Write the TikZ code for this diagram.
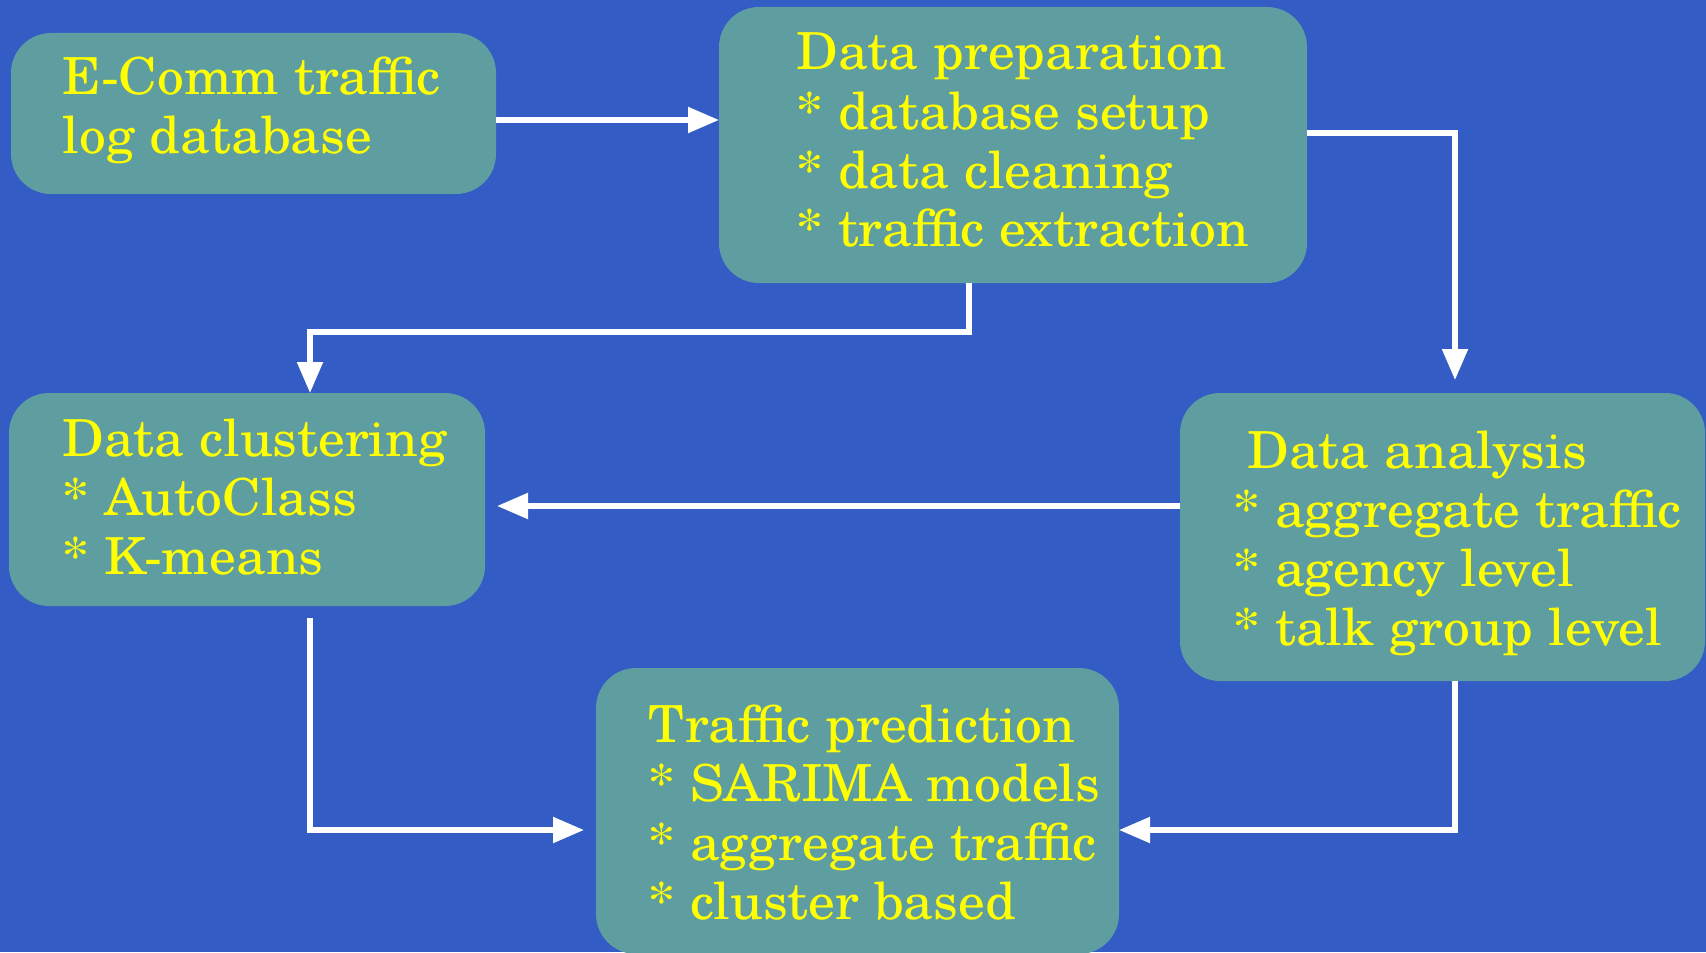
\documentclass[tikz,border=0pt]{standalone}
\usepackage{fontspec}
\setmainfont{texgyreschola}[Extension=.otf, UprightFont=*-regular, BoldFont=*-bold, ItalicFont=*-italic, BoldItalicFont=*-bolditalic, FakeStretch=1.05]
\usetikzlibrary{arrows.meta}
\definecolor{bgblue}{RGB}{51,92,197}
\definecolor{boxteal}{RGB}{95,158,160}
\definecolor{txtyellow}{RGB}{255,255,0}
\begin{document}
\begin{tikzpicture}[x=0.5pt, y=-0.5pt,
  stage/.style={rectangle, rounded corners=20pt, fill=boxteal, draw=none,
    inner sep=0pt, outer sep=0pt, anchor=north west},
  label/.style={anchor=base west, align=left, inner sep=0pt, text=txtyellow,
    font=\fontsize{25.5pt}{29.5pt}\selectfont},
  flow/.style={draw=white, line width=2.6pt, line join=miter,
    -{Triangle[length=15.5pt, width=12.5pt]}}]
  \useasboundingbox (0,0) rectangle (1706,952);
  \fill[bgblue] (0,0) rectangle (1706,952);
  \begin{scope}
    \clip (0,0) rectangle (1706,952);
    % process stages
    \node[stage, minimum width=242.5pt, minimum height=80.5pt] (b1) at (11,33) {};
    \node[stage, minimum width=294pt, minimum height=138pt] (b2) at (719,7) {};
    \node[stage, minimum width=238pt, minimum height=106.5pt] (b3) at (9,393) {};
    \node[stage, minimum width=262.5pt, minimum height=144pt] (b4) at (1180,393) {};
    \node[stage, minimum width=261.5pt, minimum height=143pt] (b5) at (596,668) {};
  \end{scope}
  % stage texts (anchored at the baseline of their last line)
  \node[label] (t1) at (62,154) {E-Comm traffic\\log database};
  \node[label] (t2) at (796,247) {Data preparation\\* database setup\\* data cleaning\\* traffic extraction};
  \node[label] (t3) at (62,574) {Data clustering\\* AutoClass\\* K-means};
  \node[label] (t4) at (1233,645) {\hspace*{7pt}Data analysis\\* aggregate traffic\\* agency level\\* talk group level};
  \node[label] (t5) at (648,919) {Traffic prediction\\* SARIMA models\\* aggregate traffic\\* cluster based};
  % routing points
  \coordinate (r1) at (0,120);
  \coordinate (k2) at (1455,133);
  \coordinate (k3a) at (969,332);
  \coordinate (k3b) at (310,332);
  \coordinate (r4) at (0,506);
  \coordinate (k5) at (310,830);
  \coordinate (k6) at (1455,830);
  % connectors
  \draw[flow] (b1.east |- r1) -- (b2.west |- r1);
  \draw[flow] (b2.east |- k2) -- (k2) -- ([yshift=6.5pt]k2 |- b4.north);
  \draw[flow] (k3a |- b2.south) -- (k3a) -- (k3b) -- (k3b |- b3.north);
  \draw[flow] (b4.west |- r4) -- ([xshift=6pt]b3.east |- r4);
  \draw[flow] ([yshift=-6pt]k5 |- b3.south) -- (k5) -- ([xshift=-6pt]b5.west |- k5);
  \draw[flow] (k6 |- b4.south) -- (k6) -- (b5.east |- k6);
\end{tikzpicture}
\end{document}
